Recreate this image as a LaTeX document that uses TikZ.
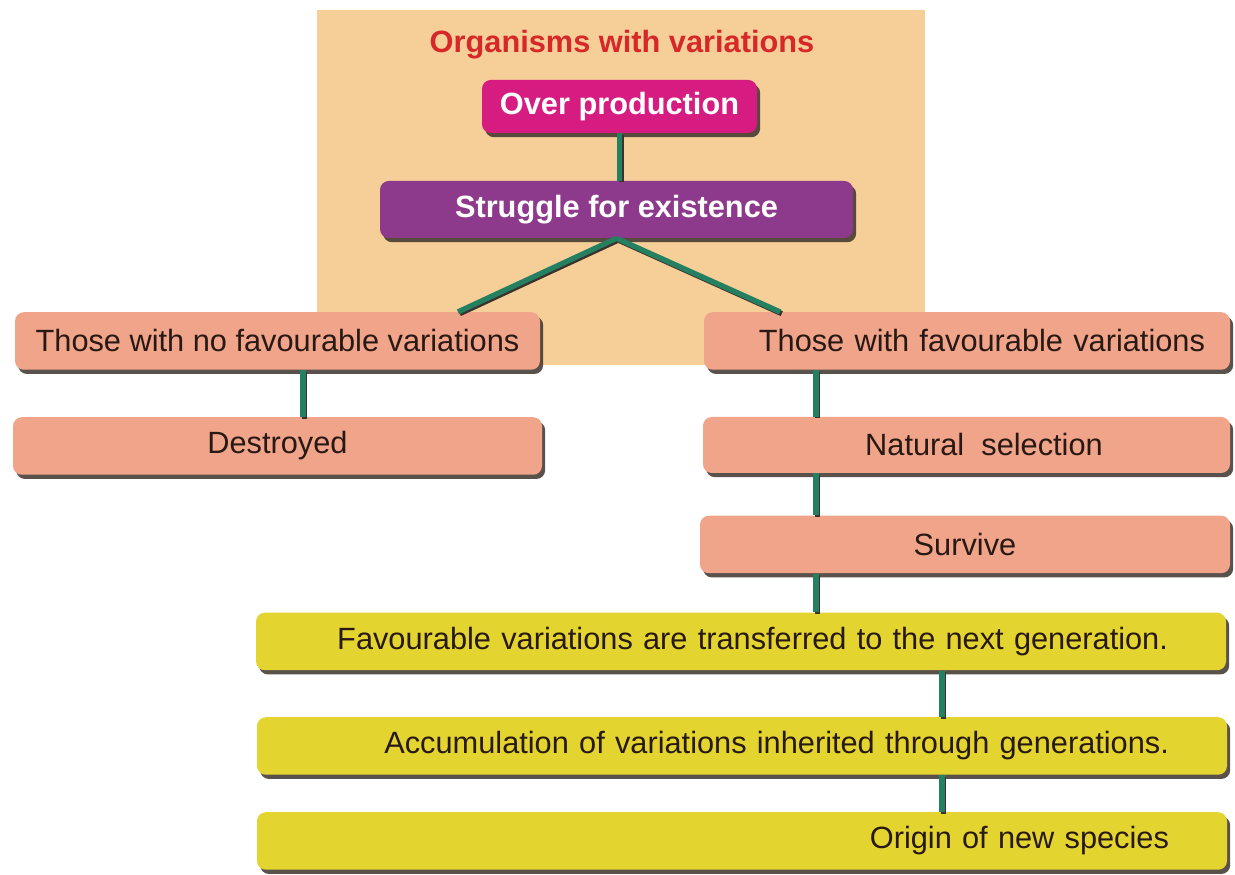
\documentclass[tikz,border=0pt]{standalone}
\usepackage{fontspec}
\setmainfont{Liberation Sans}
\usetikzlibrary{shadows}
\definecolor{tanbg}{RGB}{245,206,152}
\definecolor{overpink}{RGB}{214,28,128}
\definecolor{strugpurple}{RGB}{142,58,140}
\definecolor{salmon}{RGB}{240,164,138}
\definecolor{yelbox}{RGB}{228,212,48}
\definecolor{linkgreen}{RGB}{36,128,96}
\definecolor{titlered}{RGB}{214,40,40}
\definecolor{shadowgray}{RGB}{60,50,45}
\definecolor{textdark}{RGB}{40,25,20}
\tikzset{
  box/.style={rounded corners=5pt, minimum height=1.15cm, text=textdark,
    font=\fontsize{17.5}{20}\selectfont,
    drop shadow={shadow xshift=1.8pt, shadow yshift=-2.4pt, opacity=.85, fill=shadowgray}},
  salmonbox/.style={box, fill=salmon},
  yelbox/.style={box, fill=yelbox, inner xsep=1.16cm, text width=17.08cm, align=right},
  topbox/.style={box, text=white, font=\fontsize{17.5}{20}\selectfont\bfseries},
  link/.style={draw=linkgreen, line width=3pt,
    preaction={draw=shadowgray, line width=3pt, transform canvas={xshift=1pt, yshift=-1pt}}}
}
\begin{document}
\begin{tikzpicture}
\useasboundingbox (0,0) rectangle (24.7,17.5);
\fill[tanbg] (6.34,10.2) rectangle (18.5,17.3);
\node[text=titlered, font=\fontsize{17.5}{20}\selectfont\bfseries] (title) at (12.44,16.6) {Organisms with variations};
% upper part
\node[topbox, fill=overpink, minimum width=5.5cm, minimum height=1.06cm] (over) at (12.39,15.37) {Over production};
\node[topbox, fill=strugpurple, minimum width=9.46cm, minimum height=1.14cm] (strug) at (12.33,13.31) {Struggle for existence};
\node[salmonbox, minimum width=10.5cm] (nofav) at (5.55,10.68) {Those with no favourable variations};
\node[salmonbox, minimum width=10.58cm] (destr) at (5.55,8.58) {Destroyed};
\node[salmonbox, inner xsep=0.5cm, text width=9.52cm, align=right] (fav) at (19.34,10.68) {Those with favourable variations};
\node[salmonbox, minimum width=10.54cm, minimum height=1.12cm] (natsel) at (19.33,8.6) {\hspace*{0.7cm}Natural\ \ selection};
\node[salmonbox, minimum width=10.6cm] (surv) at (19.3,6.61) {Survive};
% lower part
\node[yelbox] (transf) at (14.82,4.67) {Favourable variations are transferred to the next generation.};
\node[yelbox] (accum) at (14.84,2.58) {Accumulation of variations inherited through generations.};
\node[yelbox] (origin) at (14.84,0.68) {Origin of new species};
\coordinate (lx) at (9.16,0);
\coordinate (rx) at (15.6,0);
\coordinate (nx) at (6.06,0);
\coordinate (fx) at (16.32,0);
\coordinate (gx) at (18.84,0);
\draw[link] (over.south) -- (strug.north -| over.south);
\draw[link] (strug.south) -- (nofav.north -| lx);
\draw[link] (strug.south) -- (fav.north -| rx);
\draw[link] (nofav.south -| nx) -- (destr.north -| nx);
\draw[link] (fav.south -| fx) -- (natsel.north -| fx);
\draw[link] (natsel.south -| fx) -- (surv.north -| fx);
\draw[link] (surv.south -| fx) -- (transf.north -| fx);
\draw[link] (transf.south -| gx) -- (accum.north -| gx);
\draw[link] (accum.south -| gx) -- (origin.north -| gx);
\end{tikzpicture}
\end{document}
